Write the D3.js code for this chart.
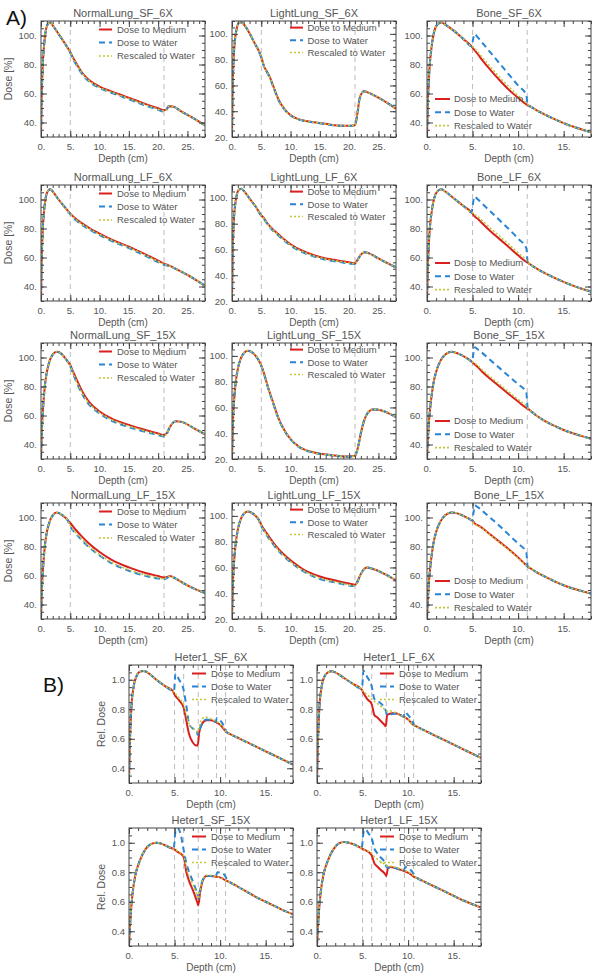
<!DOCTYPE html>
<html><head><meta charset="utf-8">
<script src="https://cdn.jsdelivr.net/npm/d3@7"></script>
<style>body{margin:0;background:#fff}svg{display:block}</style>
</head><body><svg id="c" width="600" height="977"></svg>
<script>
// ---------- tick labels / categories ----------
const xTicksLung = [0, 5, 10, 15, 20, 25];
const xTicksBone = [0, 5, 10, 15];
const yTicksDose30 = [40, 60, 80, 100];
const yTicksDose20 = [20, 40, 60, 80, 100];
const yTicksRel = [0.4, 0.6, 0.8, 1.0];
const seriesNames = ["Dose to Medium", "Dose to Water", "Rescaled to Water"];
const vLinesLung = [5, 21];
const vLinesBone = [5, 11];
const vLinesHeter = [5, 6, 7.6, 9.6, 10.6];

// ---------- A1 NormalLung_SF_6X ----------
const nlSF6_depth = [0, 0.1, 0.25, 0.5, 0.8, 1.2, 1.6, 2, 3, 4, 5, 5.5, 6, 7, 8, 9, 10, 12, 14, 16, 18, 20, 21, 21.4, 21.8, 22.5, 24, 26, 28];
const nlSF6_med = [31, 55, 75, 92, 103, 108, 109, 107, 101, 95, 88.5, 84.5, 81, 74.5, 70, 67, 64.8, 61.5, 58.5, 55.5, 52.5, 49.8, 48.5, 49, 51.2, 51, 47.5, 43, 38];
const nlSF6_wat = [31, 55, 75, 92, 103, 108, 109, 107, 101, 95, 88, 83.5, 80, 73.5, 69, 66, 63.8, 60.5, 57.5, 54.5, 51.5, 48.8, 47.5, 48.5, 51.2, 51, 47.5, 43, 38];
const nlSF6_res = [31, 55, 75, 92, 103, 108, 109, 107, 101, 95, 88.2, 84, 80.5, 74, 69.5, 66.5, 64.2, 61, 58, 55, 52, 49.2, 48, 48.8, 51.2, 51, 47.5, 43, 38];
// ---------- A2 LightLung_SF_6X ----------
const llSF6_depth = [0, 0.1, 0.25, 0.5, 0.8, 1.2, 1.6, 2, 3, 4, 4.5, 5, 5.5, 6, 6.5, 7, 7.5, 8, 9, 10, 11, 12, 14, 16, 18, 20, 21, 21.4, 21.8, 22.5, 23.5, 25, 26.5, 28];
const llSF6_med = [22, 55, 78, 95, 104, 108.5, 109, 107.5, 100.5, 91.5, 87.5, 82, 74.5, 70.5, 66, 60, 54, 48.5, 41.5, 37, 34.5, 33, 31.5, 30.2, 29, 28.8, 29.2, 38, 50, 55.5, 54, 50.5, 46.5, 42];
const llSF6_wat = [22, 55, 78, 95, 104, 108.5, 109, 107.5, 100.5, 91.5, 87.5, 81.5, 74, 70, 65.5, 59.5, 53.5, 48, 41, 36.7, 34.2, 32.8, 31.3, 30, 28.8, 28.6, 29, 38, 50, 55.5, 54, 50.5, 46.5, 42];
const llSF6_res = [22, 55, 78, 95, 104, 108.5, 109, 107.5, 100.5, 91.5, 87.5, 82, 74.3, 70.3, 65.8, 59.8, 53.8, 48.2, 41.2, 36.8, 34.3, 32.9, 31.4, 30.1, 28.9, 28.7, 29.1, 38, 50, 55.5, 54, 50.5, 46.5, 42];
// ---------- A3 Bone_SF_6X ----------
const bSF6_depth = [0, 0.1, 0.25, 0.5, 0.8, 1.2, 1.6, 2, 3, 4, 4.9, 5.02, 5.2, 5.6, 6, 7, 8, 9, 10, 10.9, 11.05, 11.5, 12, 13, 14, 15, 16, 17, 18];
const bSF6_med = [31, 55, 75, 92, 103, 108, 109, 107.5, 103, 97.5, 92.5, 91.5, 90, 87, 83.5, 76, 69, 62.5, 57, 52.5, 52, 50.5, 48.5, 45.3, 42.3, 39.6, 37.2, 35.2, 33.2];
const bSF6_wat = [31, 55, 75, 92, 103, 108, 109, 107.5, 103, 97.5, 92.5, 96, 101, 98.5, 95.5, 88, 80.5, 73, 65.5, 59, 52.2, 50.5, 48.5, 45.3, 42.3, 39.6, 37.2, 35.2, 33.2];
const bSF6_res = [31, 55, 75, 92, 103, 108, 109, 107.5, 103, 97.5, 92.5, 92.2, 91.2, 88.5, 85.5, 78, 71, 64.5, 58.5, 53.5, 52.5, 50.5, 48.5, 45.3, 42.3, 39.6, 37.2, 35.2, 33.2];
// ---------- A4 NormalLung_LF_6X ----------
const nlLF6_depth = [0, 0.1, 0.25, 0.5, 0.8, 1.2, 1.6, 2, 3, 4, 5, 6, 7, 8, 9, 10, 12, 15, 18, 20, 21, 22, 23, 25, 28];
const nlLF6_med = [31, 55, 75, 91, 101, 106, 107, 105.5, 100, 95, 90.3, 86.5, 83.5, 81, 78.5, 76.5, 72.5, 67.5, 61.8, 57.8, 55.8, 54.2, 52.2, 48, 40.5];
const nlLF6_wat = [31, 55, 75, 91, 101, 106, 107, 105.5, 100, 95, 89.8, 85.5, 82.5, 80, 77.5, 75.5, 71.5, 66.5, 60.8, 56.8, 55, 54, 52.2, 48, 40.5];
const nlLF6_res = [31, 55, 75, 91, 101, 106, 107, 105.5, 100, 95, 90, 86, 83, 80.5, 78, 76, 72, 67, 61.3, 57.3, 55.4, 54.1, 52.2, 48, 40.5];
// ---------- A5 LightLung_LF_6X ----------
const llLF6_depth = [0, 0.1, 0.25, 0.5, 0.8, 1.2, 1.6, 2, 3, 4, 5, 5.5, 6, 7, 8, 9, 10, 12, 14, 16, 18, 20, 21, 21.5, 22, 22.6, 23.5, 25, 28];
const llLF6_med = [22, 55, 77, 93, 102, 106.5, 107, 105.5, 99.5, 93.5, 86.5, 84, 80.5, 75.5, 71.5, 67.5, 64, 59, 55.5, 53, 51.5, 50, 49.3, 52.5, 56, 57.8, 56.8, 53, 46];
const llLF6_wat = [22, 55, 77, 93, 102, 106.5, 107, 105.5, 99.5, 93.5, 86, 83.3, 79.8, 74.5, 70.5, 66.5, 63, 58, 54.5, 52, 50.5, 49, 48.5, 52, 56, 57.8, 56.8, 53, 46];
const llLF6_res = [22, 55, 77, 93, 102, 106.5, 107, 105.5, 99.5, 93.5, 86.2, 83.6, 80.1, 75, 71, 67, 63.5, 58.5, 55, 52.5, 51, 49.5, 48.9, 52.2, 56, 57.8, 56.8, 53, 46];
// ---------- A6 Bone_LF_6X ----------
const bLF6_depth = [0, 0.1, 0.25, 0.5, 0.8, 1.2, 1.6, 2, 3, 4, 4.9, 5.02, 5.2, 5.6, 6, 7, 8, 9, 10, 10.9, 11.05, 11.5, 12, 13, 14, 15, 16, 17, 18];
const bLF6_med = [31, 55, 75, 91, 101, 106, 107, 105.5, 100.5, 95.5, 91, 90, 88.5, 86.5, 84, 78, 72.5, 67, 61.5, 57, 56.5, 54.5, 52.5, 49, 46, 43.2, 40.6, 38.4, 36.5];
const bLF6_wat = [31, 55, 75, 91, 101, 106, 107, 105.5, 100.5, 95.5, 91, 96, 102, 100, 97.5, 91.5, 85.5, 79.5, 73, 66.5, 57, 54.5, 52.5, 49, 46, 43.2, 40.6, 38.4, 36.5];
const bLF6_res = [31, 55, 75, 91, 101, 106, 107, 105.5, 100.5, 95.5, 91, 90.8, 89.8, 88, 85.8, 80, 74.5, 69, 63.2, 58.2, 57, 54.5, 52.5, 49, 46, 43.2, 40.6, 38.4, 36.5];
// ---------- A7 NormalLung_SF_15X ----------
const nlSF15_depth = [0, 0.15, 0.4, 0.7, 1, 1.5, 2, 2.7, 3.5, 4.5, 5, 5.5, 6, 7, 8, 9, 10, 12, 15, 18, 20, 21, 21.5, 22, 23, 24, 26, 28];
const nlSF15_med = [31, 50, 68, 82, 90, 98, 102, 104, 102.5, 97.5, 94.8, 90, 85.5, 77, 70.5, 66, 62.8, 58, 53.5, 49.8, 47.6, 46.5, 48, 52, 56, 55.6, 51.5, 47];
const nlSF15_wat = [31, 50, 68, 82, 90, 98, 102, 104, 102.5, 97.5, 94, 88.5, 83.5, 75, 68.5, 64.5, 61.3, 56.5, 52, 48.5, 46.5, 45.5, 47.5, 52, 56, 55.6, 51.5, 47];
const nlSF15_res = [31, 50, 68, 82, 90, 98, 102, 104, 102.5, 97.5, 94.3, 89, 84.2, 75.8, 69.3, 65.2, 62, 57.2, 52.7, 49.1, 47, 46, 47.8, 52, 56, 55.6, 51.5, 47];
// ---------- A8 LightLung_SF_15X ----------
const llSF15_depth = [0, 0.15, 0.4, 0.7, 1, 1.5, 2, 2.7, 3.5, 4.5, 5, 5.5, 6, 7, 8, 9, 10, 11, 12, 14, 17, 20, 21, 21.5, 22, 22.5, 23, 24, 25, 26.5, 28];
const llSF15_med = [22, 48, 68, 82, 90, 98, 102, 104, 102.5, 97, 92.5, 86, 78, 64, 51, 42, 35.5, 31, 28, 25, 23, 22, 22.5, 29, 40, 49, 54.5, 58.5, 58.3, 56, 52.5];
const llSF15_wat = [22, 48, 68, 82, 90, 98, 102, 104, 102.5, 97, 92.3, 85.6, 77.5, 63.5, 50.5, 41.6, 35.2, 30.7, 27.8, 24.8, 22.8, 21.8, 22.3, 29, 40, 49, 54.5, 58.5, 58.3, 56, 52.5];
const llSF15_res = [22, 48, 68, 82, 90, 98, 102, 104, 102.5, 97, 92.4, 85.8, 77.8, 63.8, 50.8, 41.8, 35.4, 30.9, 27.9, 24.9, 22.9, 21.9, 22.4, 29, 40, 49, 54.5, 58.5, 58.3, 56, 52.5];
// ---------- A9 Bone_SF_15X ----------
const bSF15_depth = [0, 0.15, 0.4, 0.7, 1, 1.5, 2, 2.7, 3.5, 4.5, 4.95, 5.05, 5.25, 5.6, 6, 7, 8, 9, 10, 10.9, 11.05, 11.5, 12, 13, 14, 15, 16, 17, 18];
const bSF15_med = [31, 50, 68, 82, 90, 98, 102, 104, 102.5, 99, 97, 96.3, 95.2, 93.2, 90.5, 85, 79.8, 74.6, 69.6, 65.2, 64.7, 62.5, 60, 56, 52.8, 50, 47.8, 45.8, 44];
const bSF15_wat = [31, 50, 68, 82, 90, 98, 102, 104, 102.5, 99, 97, 101, 107, 105.5, 103.5, 98, 92.5, 87, 81.5, 76, 65, 62.5, 60, 56, 52.8, 50, 47.8, 45.8, 44];
const bSF15_res = [31, 50, 68, 82, 90, 98, 102, 104, 102.5, 99, 97, 96.8, 96, 94.2, 91.8, 86.5, 81.3, 76.1, 71.1, 66.5, 65.2, 62.5, 60, 56, 52.8, 50, 47.8, 45.8, 44];
// ---------- A10 NormalLung_LF_15X ----------
const nlLF15_depth = [0, 0.15, 0.4, 0.7, 1, 1.5, 2, 2.7, 3.5, 4.5, 5, 6, 7, 8, 10, 12, 15, 18, 20, 21, 21.5, 22, 23, 25, 28];
const nlLF15_med = [31, 50, 68, 82, 90, 97.5, 101.5, 103.5, 102, 98.5, 96.2, 91.2, 86.8, 82.8, 76.2, 71, 65.6, 61.6, 59.6, 58.6, 59, 59.6, 57.8, 53.2, 47.8];
const nlLF15_wat = [31, 50, 68, 82, 90, 97.5, 101.5, 103.5, 102, 98.5, 93.8, 88.6, 84.2, 80.2, 73.8, 68.6, 63.3, 59.6, 57.9, 57.3, 58.2, 59.6, 57.8, 53.2, 47.8];
const nlLF15_res = [31, 50, 68, 82, 90, 97.5, 101.5, 103.5, 102, 98.5, 94.4, 89.2, 84.8, 80.8, 74.4, 69.2, 63.9, 60.2, 58.4, 57.7, 58.5, 59.6, 57.8, 53.2, 47.8];
// ---------- A11 LightLung_LF_15X ----------
const llLF15_depth = [0, 0.15, 0.4, 0.7, 1, 1.5, 2, 2.7, 3.5, 4.5, 5, 6, 7, 8, 9, 10, 12, 15, 18, 20, 21, 21.5, 22, 22.5, 23, 24, 26, 28];
const llLF15_med = [22, 48, 67, 81, 89.5, 97.5, 101.5, 103.5, 102, 97.5, 93, 86, 79.5, 74, 69.5, 65.5, 59, 53, 49.5, 47.5, 46.5, 50, 55, 58.5, 60, 59, 55, 50];
const llLF15_wat = [22, 48, 67, 81, 89.5, 97.5, 101.5, 103.5, 102, 97.5, 92, 84.5, 78, 72.5, 68, 64, 57.5, 51, 48, 46, 45.5, 49.5, 55, 58.5, 60, 59, 55, 50];
const llLF15_res = [22, 48, 67, 81, 89.5, 97.5, 101.5, 103.5, 102, 97.5, 92.3, 85, 78.5, 73, 68.5, 64.5, 58, 51.7, 48.5, 46.5, 45.8, 49.7, 55, 58.5, 60, 59, 55, 50];
// ---------- A12 Bone_LF_15X ----------
const bLF15_depth = [0, 0.15, 0.4, 0.7, 1, 1.5, 2, 2.7, 3.5, 4.5, 4.95, 5.05, 5.25, 5.6, 6, 7, 8, 9, 10, 10.9, 11.05, 11.5, 12, 13, 14, 15, 16, 17, 18];
const bLF15_med = [31, 50, 68, 82, 90, 97.5, 101.5, 103.5, 102.5, 99.5, 98, 97.5, 95.8, 94.6, 93, 88, 83, 78, 72.5, 67, 66.2, 64.3, 62.4, 59, 56, 53.3, 51, 49.2, 47.5];
const bLF15_wat = [31, 50, 68, 82, 90, 97.5, 101.5, 103.5, 102.5, 99.5, 98, 101, 108.3, 107, 105, 99.5, 94, 88, 82, 76, 66.2, 64.3, 62.4, 59, 56, 53.3, 51, 49.2, 47.5];
const bLF15_res = [31, 50, 68, 82, 90, 97.5, 101.5, 103.5, 102.5, 99.5, 97.8, 97, 95.5, 94.3, 92.7, 87.6, 82.5, 77.5, 72, 66.8, 66.2, 64.3, 62.4, 59, 56, 53.3, 51, 49.2, 47.5];

// ---------- B1 Heter1_SF_6X ----------
const hSF6_depth = [0, 0.1, 0.25, 0.5, 0.8, 1.2, 1.6, 2, 3, 4, 4.8, 4.95, 5.1, 5.5, 6.0, 6.3, 6.6, 7.0, 7.4, 7.55, 7.7, 8.0, 8.5, 9.0, 9.5, 9.65, 10.0, 10.55, 10.7, 11, 12, 13, 14, 15, 16, 17, 18];
const hSF6_med = [0.33, 0.58, 0.8, 0.95, 1.02, 1.055, 1.06, 1.05, 1.0, 0.955, 0.925, 0.905, 0.89, 0.86, 0.81, 0.72, 0.63, 0.575, 0.555, 0.555, 0.64, 0.7, 0.725, 0.725, 0.715, 0.71, 0.695, 0.655, 0.645, 0.635, 0.605, 0.575, 0.545, 0.515, 0.485, 0.455, 0.425];
const hSF6_wat = [0.33, 0.58, 0.8, 0.95, 1.02, 1.055, 1.06, 1.05, 1.0, 0.955, 0.925, 0.93, 1.04, 1.0, 0.93, 0.82, 0.7, 0.67, 0.66, 0.625, 0.65, 0.7, 0.73, 0.725, 0.715, 0.74, 0.725, 0.67, 0.645, 0.635, 0.605, 0.575, 0.545, 0.515, 0.485, 0.455, 0.425];
const hSF6_res = [0.33, 0.58, 0.8, 0.95, 1.02, 1.055, 1.06, 1.05, 1.0, 0.955, 0.925, 0.915, 0.905, 0.875, 0.83, 0.76, 0.7, 0.67, 0.655, 0.645, 0.68, 0.735, 0.745, 0.735, 0.72, 0.715, 0.7, 0.66, 0.645, 0.635, 0.605, 0.575, 0.545, 0.515, 0.485, 0.455, 0.425];
// ---------- B2 Heter1_LF_6X ----------
const hLF6_depth = [0, 0.1, 0.25, 0.5, 0.8, 1.2, 1.6, 2, 3, 4, 4.8, 4.95, 5.1, 5.5, 6.0, 6.3, 6.6, 7.0, 7.4, 7.55, 7.7, 8.0, 8.5, 9.0, 9.5, 9.65, 10.0, 10.55, 10.7, 11, 12, 13, 14, 15, 16, 17, 18];
const hLF6_med = [0.33, 0.58, 0.8, 0.95, 1.02, 1.05, 1.057, 1.05, 1.01, 0.97, 0.94, 0.93, 0.91, 0.87, 0.835, 0.76, 0.745, 0.72, 0.695, 0.685, 0.76, 0.77, 0.775, 0.765, 0.75, 0.745, 0.73, 0.695, 0.69, 0.68, 0.65, 0.62, 0.59, 0.56, 0.53, 0.5, 0.47];
const hLF6_wat = [0.33, 0.58, 0.8, 0.95, 1.02, 1.05, 1.057, 1.05, 1.01, 0.97, 0.94, 0.95, 1.06, 1.02, 0.955, 0.87, 0.86, 0.84, 0.81, 0.79, 0.76, 0.765, 0.77, 0.765, 0.75, 0.78, 0.76, 0.71, 0.69, 0.68, 0.65, 0.62, 0.59, 0.56, 0.53, 0.5, 0.47];
const hLF6_res = [0.33, 0.58, 0.8, 0.95, 1.02, 1.05, 1.057, 1.05, 1.01, 0.97, 0.94, 0.93, 0.92, 0.9, 0.87, 0.855, 0.84, 0.82, 0.8, 0.79, 0.785, 0.79, 0.78, 0.765, 0.75, 0.745, 0.73, 0.695, 0.69, 0.68, 0.65, 0.62, 0.59, 0.56, 0.53, 0.5, 0.47];
// ---------- B3 Heter1_SF_15X ----------
const hSF15_depth = [0, 0.15, 0.4, 0.7, 1.2, 1.8, 2.4, 3, 3.5, 4.2, 4.8, 4.95, 5.1, 5.3, 5.7, 6.0, 6.3, 6.6, 7.0, 7.3, 7.5, 7.6, 7.8, 8.1, 8.5, 9.0, 9.5, 9.7, 10.2, 10.6, 10.8, 11, 12, 13, 14, 15, 16, 17, 18];
const hSF15_med = [0.31, 0.48, 0.66, 0.78, 0.88, 0.955, 0.99, 1.0, 0.995, 0.975, 0.96, 0.955, 0.95, 0.94, 0.925, 0.905, 0.8, 0.74, 0.68, 0.63, 0.595, 0.575, 0.66, 0.745, 0.775, 0.775, 0.77, 0.77, 0.76, 0.745, 0.74, 0.735, 0.7, 0.665, 0.63, 0.6, 0.57, 0.54, 0.515];
const hSF15_wat = [0.31, 0.48, 0.66, 0.78, 0.88, 0.955, 0.99, 1.0, 0.995, 0.975, 0.96, 0.98, 1.08, 1.1, 1.05, 0.95, 0.86, 0.8, 0.74, 0.69, 0.655, 0.62, 0.68, 0.75, 0.775, 0.775, 0.77, 0.8, 0.795, 0.77, 0.745, 0.735, 0.7, 0.665, 0.63, 0.6, 0.57, 0.54, 0.515];
const hSF15_res = [0.31, 0.48, 0.66, 0.78, 0.88, 0.955, 0.99, 1.0, 0.995, 0.975, 0.96, 0.955, 0.95, 0.945, 0.93, 0.91, 0.83, 0.77, 0.72, 0.67, 0.635, 0.62, 0.68, 0.75, 0.78, 0.78, 0.77, 0.77, 0.76, 0.745, 0.74, 0.735, 0.7, 0.665, 0.63, 0.6, 0.57, 0.54, 0.515];
// ---------- B4 Heter1_LF_15X ----------
const hLF15_depth = [0, 0.15, 0.4, 0.7, 1.2, 1.8, 2.4, 3, 3.5, 4.2, 4.8, 4.95, 5.1, 5.3, 5.7, 6.0, 6.3, 6.6, 7.0, 7.3, 7.5, 7.6, 7.8, 8.1, 8.5, 9.0, 9.5, 9.7, 10.2, 10.6, 10.8, 11, 12, 13, 14, 15, 16, 17, 18];
const hLF15_med = [0.31, 0.48, 0.66, 0.78, 0.88, 0.955, 0.995, 1.005, 1.0, 0.985, 0.965, 0.96, 0.955, 0.95, 0.935, 0.915, 0.86, 0.84, 0.815, 0.8, 0.785, 0.775, 0.83, 0.835, 0.83, 0.82, 0.81, 0.805, 0.79, 0.77, 0.765, 0.76, 0.73, 0.7, 0.67, 0.64, 0.61, 0.585, 0.56];
const hLF15_wat = [0.31, 0.48, 0.66, 0.78, 0.88, 0.955, 0.995, 1.005, 1.0, 0.985, 0.965, 0.98, 1.07, 1.09, 1.06, 1.03, 0.96, 0.93, 0.9, 0.88, 0.86, 0.84, 0.83, 0.835, 0.83, 0.82, 0.81, 0.835, 0.82, 0.79, 0.77, 0.76, 0.73, 0.7, 0.67, 0.64, 0.61, 0.585, 0.56];
const hLF15_res = [0.31, 0.48, 0.66, 0.78, 0.88, 0.955, 0.995, 1.005, 1.0, 0.985, 0.965, 0.96, 0.955, 0.95, 0.94, 0.93, 0.905, 0.89, 0.87, 0.86, 0.85, 0.845, 0.845, 0.84, 0.835, 0.825, 0.815, 0.81, 0.795, 0.775, 0.765, 0.76, 0.73, 0.7, 0.67, 0.64, 0.61, 0.585, 0.56];

// ---------- panel list ----------
const panels = [
  {t:"NormalLung_SF_6X", part:"A", r:0, c:0, k:"nl", d:nlSF6_depth, s:[nlSF6_med, nlSF6_wat, nlSF6_res]},
  {t:"LightLung_SF_6X", part:"A", r:0, c:1, k:"ll", d:llSF6_depth, s:[llSF6_med, llSF6_wat, llSF6_res]},
  {t:"Bone_SF_6X", part:"A", r:0, c:2, k:"b", d:bSF6_depth, s:[bSF6_med, bSF6_wat, bSF6_res]},
  {t:"NormalLung_LF_6X", part:"A", r:1, c:0, k:"nl", d:nlLF6_depth, s:[nlLF6_med, nlLF6_wat, nlLF6_res]},
  {t:"LightLung_LF_6X", part:"A", r:1, c:1, k:"ll", d:llLF6_depth, s:[llLF6_med, llLF6_wat, llLF6_res]},
  {t:"Bone_LF_6X", part:"A", r:1, c:2, k:"b", d:bLF6_depth, s:[bLF6_med, bLF6_wat, bLF6_res]},
  {t:"NormalLung_SF_15X", part:"A", r:2, c:0, k:"nl", d:nlSF15_depth, s:[nlSF15_med, nlSF15_wat, nlSF15_res]},
  {t:"LightLung_SF_15X", part:"A", r:2, c:1, k:"ll", d:llSF15_depth, s:[llSF15_med, llSF15_wat, llSF15_res]},
  {t:"Bone_SF_15X", part:"A", r:2, c:2, k:"b", d:bSF15_depth, s:[bSF15_med, bSF15_wat, bSF15_res]},
  {t:"NormalLung_LF_15X", part:"A", r:3, c:0, k:"nl", d:nlLF15_depth, s:[nlLF15_med, nlLF15_wat, nlLF15_res]},
  {t:"LightLung_LF_15X", part:"A", r:3, c:1, k:"ll", d:llLF15_depth, s:[llLF15_med, llLF15_wat, llLF15_res]},
  {t:"Bone_LF_15X", part:"A", r:3, c:2, k:"b", d:bLF15_depth, s:[bLF15_med, bLF15_wat, bLF15_res]},
  {t:"Heter1_SF_6X", part:"B", r:0, c:0, k:"h", d:hSF6_depth, s:[hSF6_med, hSF6_wat, hSF6_res]},
  {t:"Heter1_LF_6X", part:"B", r:0, c:1, k:"h", d:hLF6_depth, s:[hLF6_med, hLF6_wat, hLF6_res]},
  {t:"Heter1_SF_15X", part:"B", r:1, c:0, k:"h", d:hSF15_depth, s:[hSF15_med, hSF15_wat, hSF15_res]},
  {t:"Heter1_LF_15X", part:"B", r:1, c:1, k:"h", d:hLF15_depth, s:[hLF15_med, hLF15_wat, hLF15_res]}
];

// ---------- layout & style ----------
const FONT = "'Liberation Sans', Arial, sans-serif";
const TXT = "#555";
const AX = "#444";
const colors = ["#d9201e", "#2a84d4", "#c2c83a"];
const dashes = [null, "6,4", "2,2"];
const widths = [2, 2, 1.6];
const layA = {lefts:[41, 232, 427], tops:[21, 185, 343, 503], w:164, h:116};
const layB = {lefts:[129, 317], tops:[665, 828], w:164, h:118};

const svg = d3.select("#c");

panels.forEach((p, idx) => {
  const L = p.part === "A" ? layA : layB;
  const left = L.lefts[p.c], top = L.tops[p.r], w = L.w, h = L.h;
  const xd = (p.k === "nl" || p.k === "ll") ? [0, 28] : [0, 18];
  const yd = p.k === "ll" ? [20, 110] : (p.k === "h" ? [0.3, 1.1] : [30, 110]);
  const xt = (p.k === "nl" || p.k === "ll") ? xTicksLung : xTicksBone;
  const yt = p.k === "ll" ? yTicksDose20 : (p.k === "h" ? yTicksRel : yTicksDose30);
  const yMinorStep = p.k === "h" ? 0.05 : 5;
  const vl = p.k === "b" ? vLinesBone : (p.k === "h" ? vLinesHeter : vLinesLung);
  const yfmt = p.k === "h" ? d3.format(".1f") : (d => d + ".");

  const x = d3.scaleLinear().domain(xd).range([0, w]);
  const y = d3.scaleLinear().domain(yd).range([h, 0]);
  const g = svg.append("g").attr("transform", `translate(${left},${top})`);

  const cid = "clip" + idx;
  g.append("clipPath").attr("id", cid).append("rect").attr("width", w).attr("height", h);

  g.selectAll("line.vl").data(vl).join("line").attr("class", "vl")
    .attr("x1", d => x(d)).attr("x2", d => x(d)).attr("y1", 0).attr("y2", h)
    .attr("stroke", "#bdbdbd").attr("stroke-width", 1).attr("stroke-dasharray", "5,4");

  const cg = g.append("g").attr("clip-path", `url(#${cid})`);
  p.s.forEach((vals, si) => {
    const line = d3.line().x((v, i) => x(p.d[i])).y(v => y(v)).curve(d3.curveMonotoneX);
    cg.append("path").attr("d", line(vals)).attr("fill", "none")
      .attr("stroke", colors[si]).attr("stroke-width", widths[si])
      .attr("stroke-dasharray", dashes[si]);
  });

  const xMinor = d3.range(xd[0], xd[1] + 0.001, 1);
  const yMinor = d3.range(yd[0], yd[1] + 1e-6, yMinorStep);
  const styleAxis = sel => {
    sel.select(".domain").remove();
    sel.selectAll("line").attr("stroke", AX);
    sel.selectAll("text").attr("fill", TXT).style("font-family", FONT).style("font-size", "9.5px");
  };
  g.append("g").attr("transform", `translate(0,${h})`)
    .call(d3.axisBottom(x).tickValues(xt).tickSizeInner(-6).tickSizeOuter(0).tickPadding(6).tickFormat(d => d + "."))
    .call(styleAxis);
  g.append("g").attr("transform", `translate(0,${h})`)
    .call(d3.axisBottom(x).tickValues(xMinor).tickSizeInner(-3).tickSizeOuter(0).tickFormat(""))
    .call(styleAxis);
  g.append("g").call(d3.axisTop(x).tickValues(xt).tickSizeInner(-6).tickSizeOuter(0).tickFormat("")).call(styleAxis);
  g.append("g").call(d3.axisTop(x).tickValues(xMinor).tickSizeInner(-3).tickSizeOuter(0).tickFormat("")).call(styleAxis);
  g.append("g")
    .call(d3.axisLeft(y).tickValues(yt).tickSizeInner(-6).tickSizeOuter(0).tickPadding(4).tickFormat(yfmt))
    .call(styleAxis);
  g.append("g").call(d3.axisLeft(y).tickValues(yMinor).tickSizeInner(-3).tickSizeOuter(0).tickFormat("")).call(styleAxis);
  g.append("g").attr("transform", `translate(${w},0)`)
    .call(d3.axisRight(y).tickValues(yt).tickSizeInner(-6).tickSizeOuter(0).tickFormat("")).call(styleAxis);
  g.append("g").attr("transform", `translate(${w},0)`)
    .call(d3.axisRight(y).tickValues(yMinor).tickSizeInner(-3).tickSizeOuter(0).tickFormat("")).call(styleAxis);

  g.append("rect").attr("width", w).attr("height", h).attr("fill", "none").attr("stroke", AX).attr("stroke-width", 1);

  g.append("text").attr("x", w / 2).attr("y", -4).attr("text-anchor", "middle")
    .attr("fill", TXT).style("font-family", FONT).style("font-size", "11px").text(p.t);
  g.append("text").attr("x", w / 2).attr("y", h + 24.5).attr("text-anchor", "middle")
    .attr("fill", TXT).style("font-family", FONT).style("font-size", "10px").text("Depth (cm)");
  if (p.c === 0) {
    const yx = p.part === "A" ? -29 : -24;
    g.append("text").attr("transform", `translate(${yx},${h / 2}) rotate(-90)`).attr("text-anchor", "middle")
      .attr("fill", TXT).style("font-family", FONT).style("font-size", "10.5px")
      .text(p.part === "A" ? "Dose [%]" : "Rel. Dose");
  }

  let lx0, lx1, tx, rows;
  if (p.k === "b") { lx0 = 8; lx1 = 23; tx = 27; rows = [h - 38, h - 24.7, h - 11.4]; }
  else if (p.k === "h") { lx0 = 63; lx1 = 77; tx = 82; rows = [8.5, 21.5, 34.5]; }
  else if (p.c === 0) { lx0 = 58; lx1 = 71; tx = 76; rows = [8.5, 21.5, 35]; }
  else { lx0 = 58; lx1 = 71; tx = 75.5; rows = [6.6, 19.3, 31.5]; }
  const lg = g.append("g");
  seriesNames.forEach((nm, si) => {
    lg.append("line").attr("x1", lx0).attr("x2", lx1).attr("y1", rows[si]).attr("y2", rows[si])
      .attr("stroke", colors[si]).attr("stroke-width", widths[si]).attr("stroke-dasharray", dashes[si]);
    lg.append("text").attr("x", tx).attr("y", rows[si] + 3.4).attr("fill", TXT)
      .style("font-family", FONT).style("font-size", "9.5px").text(nm);
  });
});

svg.append("text").attr("x", 6).attr("y", 25).style("font-family", FONT).style("font-size", "21px").attr("fill", "#111").text("A)");
svg.append("text").attr("x", 43).attr("y", 692).style("font-family", FONT).style("font-size", "21px").attr("fill", "#111").text("B)");
</script></body></html>
